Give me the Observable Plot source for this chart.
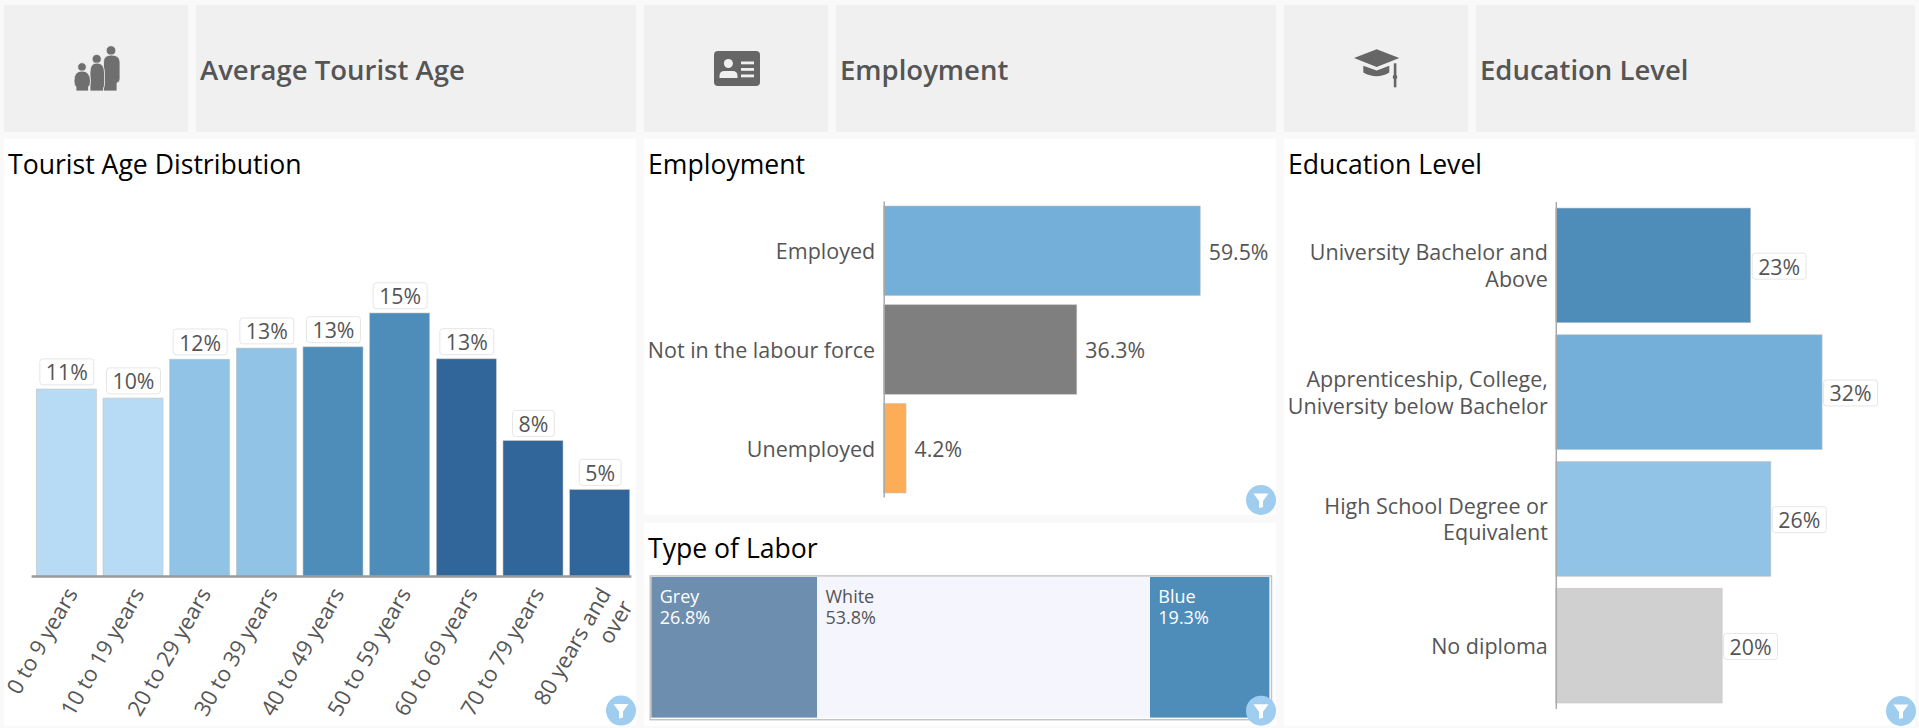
<!DOCTYPE html>
<html><head><meta charset="utf-8">
<script src="https://cdn.jsdelivr.net/npm/d3@7"></script>
<script src="https://cdn.jsdelivr.net/npm/@observablehq/plot@0.6"></script>
<style>
html,body{margin:0;padding:0;background:#f9f9f9;overflow:hidden;width:1919px;height:728px;font-family:"Open Sans",sans-serif}
.p{position:absolute;box-sizing:border-box}
.h{background:#f0f0f0}
.ht{font-weight:600;font-size:27.5px;color:#555;line-height:129px;padding-left:4px;white-space:nowrap}
.c{background:#fff}
.t{position:absolute;left:4px;top:8px;font-size:26.6px;line-height:34px;color:#000;white-space:nowrap}
svg.ov{position:absolute;left:0;top:0;pointer-events:none}
</style></head><body>
<div id="root"></div>
<script>
// ---- data ----
const ageGroups = ["0 to 9 years","10 to 19 years","20 to 29 years","30 to 39 years","40 to 49 years","50 to 59 years","60 to 69 years","70 to 79 years","80 years and\nover"];
const ageValues = [10.77,10.25,12.49,13.13,13.2,15.15,12.51,7.8,4.98];
const ageColors = ["#b7dbf5","#b7dbf5","#90c3e5","#90c3e5","#4e8dba","#4e8dba","#31669a","#31669a","#31669a"];
const employmentCats = ["Employed","Not in the labour force","Unemployed"];
const employmentValues = [59.5,36.3,4.2];
const employmentColors = ["#73afd8","#7f7f7f","#fdad56"];
const laborCats = ["Grey","White","Blue"];
const laborValues = [26.8,53.8,19.3];
const laborColors = ["#6d8eae","#f4f5fd","#4e8dba"];
const laborText = ["#fff","#555","#fff"];
const eduCats = ["University Bachelor and\nAbove","Apprenticeship, College,\nUniversity below Bachelor","High School Degree or\nEquivalent","No diploma"];
const eduValues = [23.2,31.7,25.6,19.8];
const eduColors = ["#4e8dba","#73afd8","#90c3e5","#d0d0d0"];

const zip = (c,v,k) => c.map((name,i)=>({name,value:v[i],color:k[i]}));
const ageData = zip(ageGroups,ageValues,ageColors);
const empData = zip(employmentCats,employmentValues,employmentColors);
const eduData = zip(eduCats,eduValues,eduColors);
const starts = d3.cumsum([0,...laborValues]);
const labData = laborCats.map((name,i)=>({name,value:laborValues[i],x1:starts[i],x2:starts[i+1],color:laborColors[i],ink:laborText[i]}));

const root = document.getElementById("root");
function panel(cls,x,y,w,h,html){
  const d=document.createElement("div");d.className="p "+cls;
  d.style.cssText=`left:${x}px;top:${y}px;width:${w}px;height:${h}px`;
  if(html)d.innerHTML=html;root.appendChild(d);return d;
}
const style={fontFamily:"'Open Sans',sans-serif",fontSize:"21px",background:"transparent",overflow:"visible",position:"absolute",left:0,top:0,maxWidth:"none"};
const ink="#555", barEdge="#c4c4c4", fs=21.5, vfs=21.3;
const pct0=d=>`${d3.format(".0f")(d)}%`;

function boxLabels(svg){
  svg.querySelectorAll("g.boxed text").forEach(t=>{
    const b=t.getBBox();
    const r=document.createElementNS("http://www.w3.org/2000/svg","rect");
    const W=b.width+12,H=26;
    const tr=t.getAttribute("transform");
    if(tr)r.setAttribute("transform",tr);
    r.setAttribute("x",b.x-6);r.setAttribute("y",b.y+b.height/2-H/2);
    r.setAttribute("width",W);r.setAttribute("height",H);r.setAttribute("rx",3);
    r.setAttribute("fill","#fff");r.setAttribute("stroke","#e6e6e6");
    t.parentNode.insertBefore(r,t);
  });
}

// headers
panel("h",4,5,184,127,`<svg width="184" height="127" style="position:absolute;left:0;top:0">
 <g transform="translate(-4,-5)" fill="#6f6f6f" stroke="#f0f0f0" stroke-width=".8">
  <circle cx="111" cy="50.5" r="4.8"/><path d="M103.5 91V62q0-7 8-7t8.5 7v17q0 3-3 4v8z"/>
  <circle cx="96.7" cy="59" r="4.6"/><path d="M90 91V72q0-9 7-9t7.500 9v12q0 3-1 4v3z"/>
  <circle cx="82" cy="67" r="4.300"/><path d="M76 91v-4q-2-2-2-6q0-10 8-10t8.500 10q0 4-2 6v4z"/>
 </g></svg>`);
panel("h ht",196,5,440,127,"Average Tourist Age");
panel("h",644,5,184,127,`<svg width="184" height="127" style="position:absolute;left:0;top:0">
 <g transform="translate(-644,-5)"><rect x="714" y="51" width="46" height="35" rx="4" fill="#666"/>
 <g fill="#f0f0f0"><circle cx="728.400" cy="63.500" r="4.500"/><path d="M719.500 78v-2q0-5 5-5h8q5 0 5 5v2z"/>
 <rect x="741" y="61.500" width="13" height="2.800"/><rect x="741" y="68" width="13" height="2.800"/><rect x="741" y="74.500" width="13" height="2.800"/></g></g></svg>`);
panel("h ht",836,5,440,127,"Employment");
panel("h",1284,5,184,127,`<svg width="184" height="127" style="position:absolute;left:0;top:0">
 <g transform="translate(-1284,-5)" fill="#666"><path d="M1354 58L1376.700 49.300L1399.300 58L1376.700 67z"/>
 <path d="M1363.300 65.700L1376.700 70.500L1389.300 65.700V72.500Q1376.700 80 1363.300 72.500z"/>
 <rect x="1393.800" y="63.300" width="2.600" height="24"/><circle cx="1395" cy="77" r="2.300"/></g></svg>`);
panel("h ht",1476,5,439,127,"Education Level");

// Tourist Age Distribution
const pAge=panel("c",4,139,632,587,'<div class="t">Tourist Age Distribution</div>');
const ageSvg=Plot.plot({
  width:632,height:587,marginLeft:29,marginRight:3,marginTop:89.8,marginBottom:150,style,
  x:{type:"band",domain:ageGroups,paddingInner:0.1,paddingOuter:0.05,round:false,label:null},
  y:{domain:[0,20],axis:null,label:null},
  marks:[
    Plot.axisX({tickSize:0,tickRotate:-60,tickPadding:9,dx:-4,dy:-1,lineAnchor:"top",fontSize:22,fill:ink,lineHeight:1.15,label:null}),
    Plot.barY(ageData,{x:"name",y:"value",fill:d=>d.color,stroke:barEdge,strokeWidth:0.6}),
    Plot.ruleY([0],{stroke:"#999",strokeWidth:2.5,insetLeft:-1.4,insetRight:1.6}),
    Plot.text(ageData,{x:"name",y:"value",text:d=>pct0(d.value),dy:-16,fontSize:vfs,fill:ink,className:"boxed"})
  ],
  color:{type:"identity"}
});
pAge.appendChild(ageSvg);

// Employment
const pEmp=panel("c",644,139,632,376,'<div class="t">Employment</div>');
const empSvg=Plot.plot({
  width:632,height:376,marginLeft:239.7,marginRight:19.9,marginTop:62.4,marginBottom:17.4,style,
  x:{domain:[0,70],axis:null,label:null},
  y:{type:"band",domain:employmentCats,paddingInner:0.093,paddingOuter:0.0465,round:false,label:null},
  marks:[
    Plot.axisY({tickSize:0,tickPadding:9,dy:1,fontSize:fs,fill:ink,label:null}),
    Plot.barX(empData,{y:"name",x:"value",fill:d=>d.color,stroke:barEdge,strokeWidth:0.6}),
    Plot.ruleX([0],{stroke:"#aaa",strokeWidth:1.5}),
    Plot.text(empData,{y:"name",x:"value",text:d=>`${d.value}%`,dx:8,dy:1.5,textAnchor:"start",fontSize:vfs,fill:ink})
  ],
  color:{type:"identity"}
});
pEmp.appendChild(empSvg);

// Type of Labor
const pLab=panel("c",644,523,632,203,'<div class="t">Type of Labor</div>');
const labSvg=Plot.plot({
  width:632,height:203,marginLeft:7.4,marginRight:6.6,marginTop:54,marginBottom:8.4,style,
  x:{domain:[0,d3.sum(laborValues)],axis:null,label:null},
  marks:[
    Plot.frame({inset:-1.6,stroke:"#c4c4c4",strokeWidth:1.5}),
    Plot.rectX(labData,{x1:"x1",x2:"x2",fill:d=>d.color}),
    Plot.text(labData,{x:"x1",frameAnchor:"top",text:d=>`${d.name}\n${d.value}%`,textAnchor:"start",lineAnchor:"top",lineHeight:1.2,dx:7.8,dy:10,fontSize:18,fill:d=>d.ink})
  ],
  color:{type:"identity"}
});
pLab.appendChild(labSvg);

// Education Level
const pEdu=panel("c",1284,139,631,587,'<div class="t">Education Level</div>');
const eduSvg=Plot.plot({
  width:631,height:587,marginLeft:271.8,marginRight:23.2,marginTop:63,marginBottom:17,style,
  x:{domain:[0,40],axis:null,label:null},
  y:{type:"band",domain:eduCats,paddingInner:0.095,paddingOuter:0.0475,round:false,label:null},
  marks:[
    Plot.axisY({tickSize:0,tickPadding:8.5,dy:-1,fontSize:fs,fill:ink,lineHeight:1.25,label:null}),
    Plot.barX(eduData,{y:"name",x:"value",fill:d=>d.color,stroke:barEdge,strokeWidth:0.6}),
    Plot.ruleX([0],{stroke:"#aaa",strokeWidth:1.5}),
    Plot.text(eduData,{y:"name",x:"value",text:d=>pct0(d.value),dx:7,dy:2,textAnchor:"start",fontSize:vfs,fill:ink,className:"boxed"})
  ],
  color:{type:"identity"}
});
pEdu.appendChild(eduSvg);

[ageSvg,eduSvg].forEach(boxLabels);

// filter badges
const badge=[[621,710.600],[1261,500],[1261,710.700],[1901,711]];
const ns="http://www.w3.org/2000/svg";
const ov=document.createElementNS(ns,"svg");
ov.setAttribute("class","ov");ov.setAttribute("width",1919);ov.setAttribute("height",728);
ov.innerHTML=badge.map(([x,y])=>`<g transform="translate(${x},${y})"><circle r="15" fill="#9fcdf0"/><path d="M-7.500-6.500H7.500L2 1V7L-2 8V1z" fill="#fff"/></g>`).join("");
root.appendChild(ov);
</script>
</body></html>
